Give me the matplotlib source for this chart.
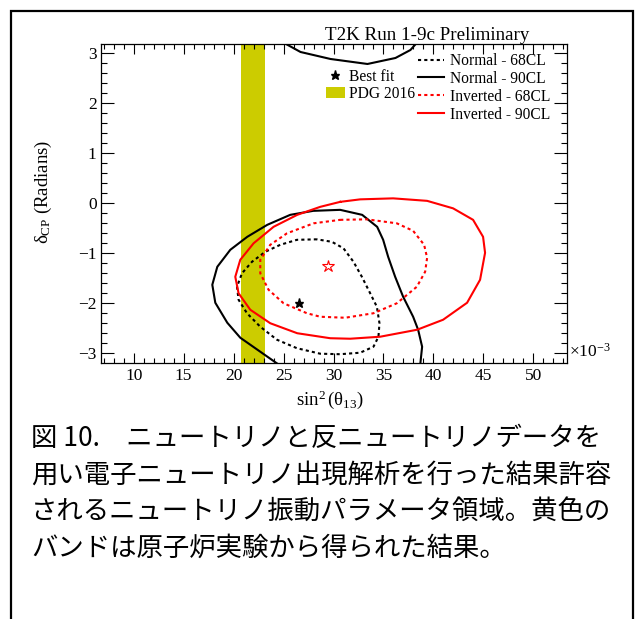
import numpy as np
import matplotlib
matplotlib.use("Agg")
import matplotlib.pyplot as plt
from matplotlib.lines import Line2D
from matplotlib.patches import Patch, Rectangle

plt.rcParams['font.family'] = ['Liberation Serif', 'DejaVu Serif']
plt.rcParams['mathtext.fontset'] = 'custom'
plt.rcParams['mathtext.rm'] = 'Liberation Serif'
plt.rcParams['mathtext.it'] = 'Liberation Serif'
plt.rcParams['mathtext.bf'] = 'Liberation Serif:bold'

# ---- data (sin^2 theta13 in units of 1e-3, delta_CP in radians) ----
pdg_center, pdg_err = 21.9, 1.2

normal68_x = [28.34, 26.34, 24.67, 23.17, 21.84, 20.84, 20.34, 20.50, 21.34, 22.67, 24.34, 26.34,
              28.67, 30.67, 32.67, 34.0, 34.5, 34.6, 34.34, 33.67, 32.84, 32.0, 31.0, 29.84, 28.34]
normal68_y = [-0.72, -0.73, -0.83, -0.97, -1.17, -1.40, -1.67, -1.93, -2.20, -2.47, -2.73, -2.90,
              -3.01, -3.02, -2.99, -2.87, -2.67, -2.40, -2.07, -1.80, -1.47, -1.17, -0.90, -0.77, -0.72]

normal90_x = [24.67, 22.67, 20.67, 19.37, 18.17, 17.87, 18.37, 19.67, 21.37, 23.37, 25.67, 27.97,
              30.67, 32.87, 34.37, 34.97, 35.47, 36.17, 36.97, 37.97, 38.47, 38.87, 38.67]
normal90_y = [-3.25, -2.97, -2.69, -2.39, -1.99, -1.63, -1.27, -0.93, -0.67, -0.43, -0.23, -0.15,
              -0.13, -0.23, -0.47, -0.73, -1.07, -1.47, -1.87, -2.27, -2.53, -2.87, -3.25]
# part wrapped around delta_CP = +pi
normal90_top_x = [24.7, 26.7, 29.7, 33.4, 36.2, 37.7, 38.5]
normal90_top_y = [3.25, 3.03, 2.89, 2.79, 2.91, 3.07, 3.25]

inverted68_x = [30.67, 33.34, 36.34, 37.97, 39.07, 39.37, 39.17, 38.34, 36.34, 34.0, 31.17, 28.67,
                27.34, 25.0, 23.50, 22.67, 22.67, 23.67, 25.34, 28.0, 30.67]
inverted68_y = [-0.33, -0.32, -0.40, -0.55, -0.83, -1.09, -1.37, -1.67, -2.0, -2.2, -2.29, -2.27,
                -2.20, -2.0, -1.73, -1.40, -1.13, -0.83, -0.60, -0.40, -0.33]

inverted90_x = [30.67, 32.67, 35.97, 39.37, 41.97, 43.97, 44.97, 45.17, 44.67, 43.37, 40.97, 38.37,
                34.67, 31.67, 29.67, 26.37, 23.67, 21.67, 20.50, 20.17, 20.67, 22.0, 24.0, 26.37, 28.67, 30.67]
inverted90_y = [0.03, 0.08, 0.10, 0.05, -0.10, -0.33, -0.67, -0.99, -1.53, -1.99, -2.33, -2.53,
                -2.67, -2.71, -2.70, -2.60, -2.40, -2.13, -1.80, -1.47, -1.13, -0.80, -0.47, -0.23, -0.07, 0.03]

bestfit_normal = (26.5, -2.0)
bestfit_inverted = (29.4, -1.25)

caption_lines = [
    "図 10.\u3000ニュートリノと反ニュートリノデータを",
    "用い電子ニュートリノ出現解析を行った結果許容",
    "されるニュートリノ振動パラメータ領域。黄色の",
    "バンドは原子炉実験から得られた結果。",
]

W, H = 641, 619
fig = plt.figure(figsize=(W / 100, H / 100), dpi=100)

# outer frame
fig.add_artist(Rectangle((11 / W, -0.05), (633 - 11) / W, 1.05 - 11 / H,
                         transform=fig.transFigure, fill=False, lw=1.6, ec='black'))

ax_l, ax_r, ax_t, ax_b = 100.7, 567.3, 44.0, 362.7
ax = fig.add_axes([ax_l / W, 1 - ax_b / H, (ax_r - ax_l) / W, (ax_b - ax_t) / H])

ax.axvspan(pdg_center - pdg_err, pdg_center + pdg_err, color='#cccc00', lw=0, zorder=1)

dot = (0, (1.5, 1.5))
ax.plot(normal68_x, normal68_y, color='black', lw=1.5, ls=dot, zorder=3)
ax.plot(normal90_x, normal90_y, color='black', lw=1.5, zorder=3)
ax.plot(normal90_top_x, normal90_top_y, color='black', lw=1.5, zorder=3)
ax.plot(inverted68_x, inverted68_y, color='red', lw=1.5, ls=dot, zorder=3)
ax.plot(inverted90_x, inverted90_y, color='red', lw=1.5, zorder=3)

ax.plot(*bestfit_normal, marker='*', color='black', ms=6.5, zorder=4)
ax.plot(*bestfit_inverted, marker='*', mfc='none', mec='red', mew=0.8, ms=9, zorder=4)

ax.set_xlim(6.7, 53.4)
ax.set_ylim(-3.19, 3.19)
ax.set_xticks([10, 15, 20, 25, 30, 35, 40, 45, 50])
ax.set_xticks(np.arange(7, 54), minor=True)
ax.set_yticks([-3, -2, -1, 0, 1, 2, 3])
ax.set_yticks(np.arange(-3.0, 3.1, 0.2), minor=True)
ax.tick_params(which='both', direction='in', top=True, right=True, width=0.8, labelsize=12.5)
ax.tick_params(axis='x', which='major', length=7, pad=4)
ax.tick_params(axis='x', which='minor', length=3.5)
ax.tick_params(axis='y', which='major', length=9.5, pad=3)
ax.tick_params(axis='y', which='minor', length=4.5)
for s in ax.spines.values():
    s.set_linewidth(0.9)

ax.set_xlabel(r'$\sin^{2}(\theta_{13})$', fontsize=13.5)
ax.xaxis.set_label_coords(0.49, -0.08)
ax.set_ylabel(r'$\delta_{\mathrm{CP}}$ (Radians)', fontsize=13.5)
ax.yaxis.set_label_coords(-0.1, 0.537)

fig.text(569 / W, 1 - 352 / H, r'$\times10^{-3}$', fontsize=12.5, ha='left', va='center')
fig.text(427 / W, 1 - 35 / H, 'T2K Run 1-9c Preliminary', fontsize=13.7, ha='center', va='center')

# legends
h1 = [Line2D([], [], color='black', lw=1.5, ls=dot),
      Line2D([], [], color='black', lw=1.5),
      Line2D([], [], color='red', lw=1.5, ls=dot),
      Line2D([], [], color='red', lw=1.5)]
l1 = ['Normal - 68CL', 'Normal - 90CL', 'Inverted - 68CL', 'Inverted - 90CL']
leg1 = ax.legend(h1, l1, loc='upper left', bbox_to_anchor=(418 / W, 1 - 53 / H),
                 bbox_transform=fig.transFigure, frameon=False, fontsize=11.2,
                 handlelength=1.65, handletextpad=0.4, labelspacing=0.12, borderpad=0,
                 borderaxespad=0)
ax.add_artist(leg1)

h2 = [Line2D([], [], color='black', marker='*', ms=6.5, ls='none'),
      Patch(facecolor='#cccc00', edgecolor='none')]
l2 = ['Best fit', 'PDG 2016']
ax.legend(h2, l2, loc='upper left', bbox_to_anchor=(326 / W, 1 - 69 / H),
          bbox_transform=fig.transFigure, frameon=False, fontsize=11.2,
          handlelength=1.2, handleheight=0.8, handletextpad=0.25, labelspacing=0.06,
          borderpad=0, borderaxespad=0)

# caption
cap_y = [438, 475, 511, 548]
for line, y in zip(caption_lines, cap_y):
    fig.text(31 / W, 1 - y / H, line, fontsize=19, ha='left', va='center',
             family=['Noto Sans CJK JP', 'DejaVu Sans'])

fig.savefig('out.png', dpi=100)
